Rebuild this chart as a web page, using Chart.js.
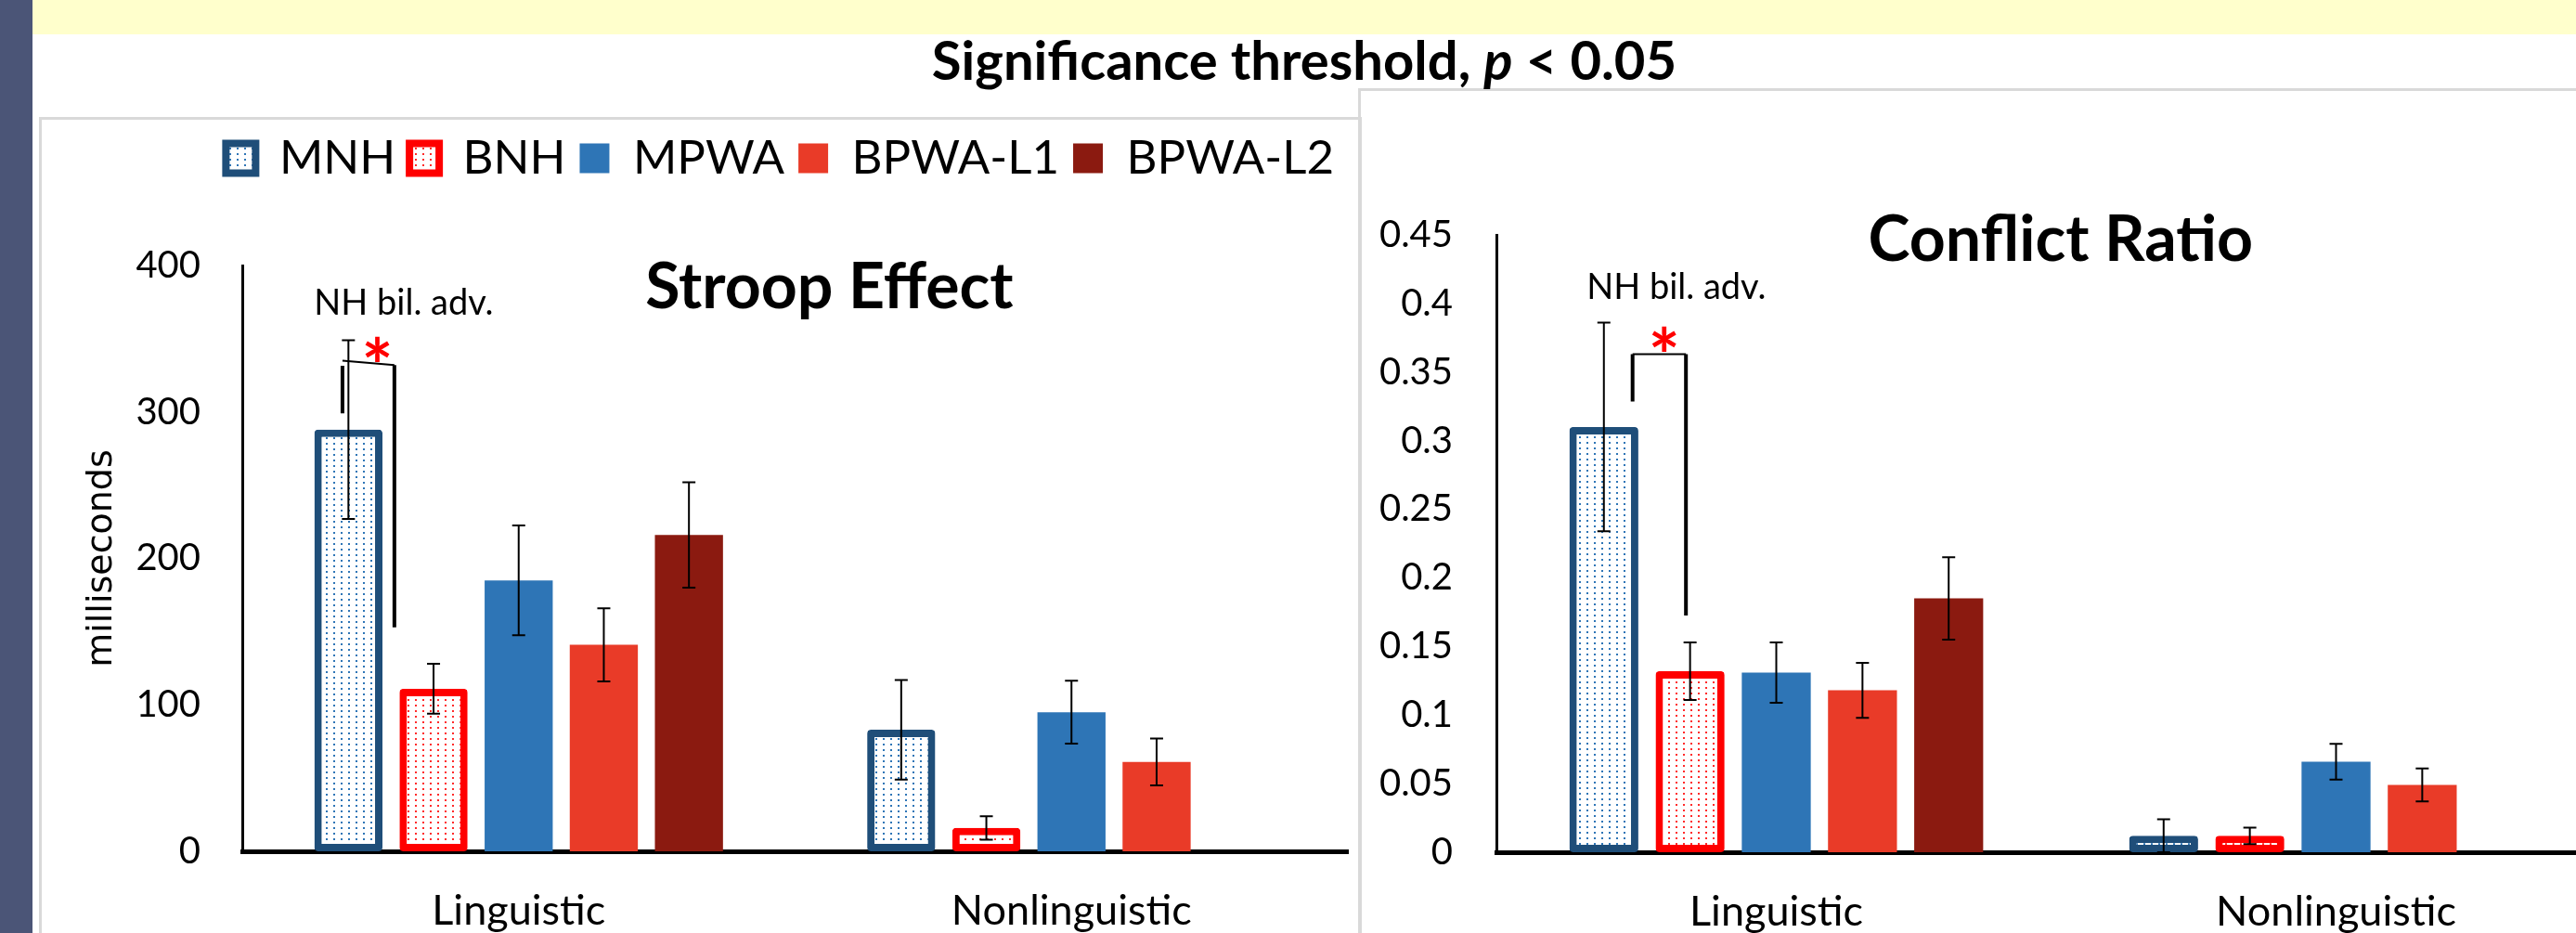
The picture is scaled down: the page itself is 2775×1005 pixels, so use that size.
<!DOCTYPE html>
<html>
<head>
<meta charset="utf-8">
<script src="https://cdn.jsdelivr.net/npm/chart.js@4.4.0/dist/chart.umd.min.js"></script>
<style>
  html, body { margin: 0; padding: 0; }
  body { width: 2775px; height: 1005px; overflow: hidden; position: relative; background: #fff; font-family: Lato, sans-serif; }
  #strip { position: absolute; left: 0; top: 0; width: 35px; height: 1005px; background: #4b5577; }
  #band { position: absolute; left: 35px; top: 0; width: 2740px; height: 37px; background: #ffffcc; }
  #heading { position: absolute; left: 35px; top: 31px; width: 2740px; text-align: center; font: bold 58px/66px Lato, sans-serif; color: #000; }
  .panel { position: absolute; border: 3px solid #d9d9d9; box-sizing: border-box; }
  canvas { position: absolute; }
</style>
</head>
<body>
<div id="strip"></div>
<div id="band"></div>
<div class="panel" style="left:42px; top:126px; width:1425px; height:900px;"></div>
<div class="panel" style="left:1463px; top:95px; width:1400px; height:1000px;"></div>
<div id="heading">Significance threshold, <i>p</i> &lt; 0.05</div>
<canvas id="stroop" width="1416" height="878" style="left:44px; top:127px;"></canvas>
<canvas id="conflict" width="1352" height="909" style="left:1466px; top:96px;"></canvas>
<script>
const categories = ['Linguistic', 'Nonlinguistic'];
const groups = ['MNH', 'BNH', 'MPWA', 'BPWA-L1', 'BPWA-L2'];

// Stroop effect in ms, one value per group
const stroopLing = [288, 111, 185, 141, 216];
const stroopLingErr = [61, 17, 37.5, 25, 36];
const stroopNonling = [83, 16, 95, 61, null];
const stroopNonlingErr = [34, 8, 21.5, 16, null];
const stroopTicks = ['0', '100', '200', '300', '400'];

// conflict ratio
const conflictLing = [0.310, 0.132, 0.131, 0.118, 0.185];
const conflictLingErr = [0.076, 0.021, 0.022, 0.02, 0.03];
const conflictNonling = [0.012, 0.012, 0.066, 0.049, null];
const conflictNonlingErr = [0.012, 0.006, 0.013, 0.012, null];
const conflictTicks = ['0', '0.05', '0.1', '0.15', '0.2', '0.25', '0.3', '0.35', '0.4', '0.45'];

const colors = ['#1f4e79', '#ff0000', '#2e75b6', '#e93b28', '#8b1a10'];
const dotColors = ['#2e75b6', '#ff2a2a'];

Chart.defaults.font.family = 'Lato';
Chart.defaults.color = '#000';

function dots(color) {
  const c = document.createElement('canvas');
  c.width = 8; c.height = 6;
  const g = c.getContext('2d');
  g.fillStyle = '#fff';
  g.fillRect(0, 0, 8, 6);
  g.fillStyle = color;
  g.fillRect(3, 2, 2, 2);
  return g.createPattern(c, 'repeat');
}

function makeDatasets(ling, nonling) {
  return groups.map((g, i) => ({
    label: g,
    data: [ling[i], nonling[i]],
    backgroundColor: i < 2 ? dots(dotColors[i]) : colors[i],
    borderColor: colors[i],
    borderWidth: i < 2 ? 8 : 0,
    borderRadius: i < 2 ? 4 : 0,
    borderSkipped: false,
    categoryPercentage: 0.77,
    barPercentage: 0.8
  }));
}

const errorBars = {
  id: 'errorBars',
  afterDatasetsDraw(chart, args, o) {
    const ctx = chart.ctx, y = chart.scales.y;
    ctx.save();
    ctx.strokeStyle = '#000';
    ctx.lineWidth = 2;
    chart.data.datasets.forEach((ds, di) => {
      chart.getDatasetMeta(di).data.forEach((bar, i) => {
        const v = ds.data[i], e = o.errors[i][di];
        if (v == null || e == null) return;
        const t = y.getPixelForValue(v + e), b = y.getPixelForValue(v - e);
        ctx.beginPath();
        ctx.moveTo(bar.x, t); ctx.lineTo(bar.x, b);
        ctx.moveTo(bar.x - 7, t); ctx.lineTo(bar.x + 7, t);
        ctx.moveTo(bar.x - 7, b); ctx.lineTo(bar.x + 7, b);
        ctx.stroke();
      });
    });
    ctx.restore();
  }
};

// significance bracket, note and chart title
const annotate = {
  id: 'annotate',
  afterDatasetsDraw(chart, args, o) {
    const {ctx, chartArea: a} = chart;
    const y = v => chart.scales.y.getPixelForValue(v);
    const b0 = chart.getDatasetMeta(0).data[0], b1 = chart.getDatasetMeta(1).data[0];
    const xAt = t => b0.x + t * (b1.x - b0.x);
    const xl = xAt(o.leftT), xr = xAt(o.rightT);
    ctx.save();
    ctx.strokeStyle = '#000';
    ctx.lineWidth = 2;
    ctx.beginPath();
    ctx.moveTo(xl, y(o.barLeft)); ctx.lineTo(xr, y(o.barRight));
    ctx.stroke();
    ctx.lineWidth = 4;
    ctx.beginPath();
    ctx.moveTo(xl, y(o.leftTop)); ctx.lineTo(xl, y(o.leftBottom));
    ctx.moveTo(xr, y(o.barRight)); ctx.lineTo(xr, y(o.rightBottom));
    ctx.stroke();
    ctx.textAlign = 'center';
    ctx.textBaseline = 'alphabetic';
    ctx.fillStyle = '#ff0000';
    ctx.font = 'bold 80px Lato';
    ctx.fillText('*', xAt(o.starT), y(o.starY));
    ctx.fillStyle = '#000';
    ctx.font = '38px Lato';
    ctx.fillText('NH bil. adv.', xAt(o.noteT), y(o.noteY));
    ctx.font = 'bold 68px Lato';
    ctx.fillText(o.title, a.left + o.titleX * a.width, a.top + o.titleDy);
    ctx.restore();
  }
};

// leaves room between legend and plot
const legendGap = {
  id: 'legendGap',
  afterInit(chart, args, o) {
    const lg = chart.legend, fit = lg.fit;
    lg.fit = function () { fit.call(this); this.height = o.height; };
  }
};

function axes(max, step, ticks, yWidth, tickPad, xHeight, yTitle) {
  return {
    x: {
      grid: { display: false, drawTicks: false },
      border: { display: true, color: '#000', width: 5 },
      ticks: { padding: 37, font: { size: 45 } },
      afterFit: s => { s.height = xHeight; }
    },
    y: {
      min: 0, max: max,
      grid: { display: false, drawTicks: false },
      border: { display: true, color: '#000', width: 3 },
      ticks: { stepSize: step, padding: tickPad, font: { size: 40 }, callback: (v, i) => ticks[i] },
      title: yTitle,
      afterFit: s => { s.width = yWidth; }
    }
  };
}

function draw() {
  new Chart(document.getElementById('stroop'), {
    type: 'bar',
    data: { labels: categories, datasets: makeDatasets(stroopLing, stroopNonling) },
    options: {
      responsive: false,
      animation: false,
      layout: { padding: { top: 3, right: 8 } },
      scales: axes(400, 100, stroopTicks, 217, 45, 88, {
        display: true, text: 'milliseconds',
        font: { family: 'DejaVu Sans', size: 38 },
        padding: { top: 43, bottom: 0 }
      }),
      plugins: {
        legend: {
          align: 'end',
          labels: { boxWidth: 32, boxHeight: 32, padding: 15, font: { size: 51 } }
        },
        legendGap: { height: 156 },
        tooltip: { enabled: false },
        errorBars: { errors: [stroopLingErr, stroopNonlingErr] },
        annotate: {
          title: 'Stroop Effect', titleX: 0.531, titleDy: 46,
          leftT: -0.07, rightT: 0.54,
          barLeft: 335, barRight: 332, leftTop: 331.5, leftBottom: 299, rightBottom: 153,
          starT: 0.34, starY: 312.6, noteT: 0.65, noteY: 366.5
        }
      }
    },
    plugins: [legendGap, errorBars, annotate]
  });

  new Chart(document.getElementById('conflict'), {
    type: 'bar',
    data: { labels: categories, datasets: makeDatasets(conflictLing, conflictNonling) },
    options: {
      responsive: false,
      animation: false,
      layout: { padding: { top: 157 } },
      scales: axes(0.45, 0.05, conflictTicks, 146, 47, 87, { display: false }),
      plugins: {
        legend: { display: false },
        tooltip: { enabled: false },
        errorBars: { errors: [conflictLingErr, conflictNonlingErr] },
        annotate: {
          title: 'Conflict Ratio', titleX: 0.504, titleDy: 28,
          leftT: 0.333, rightT: 0.952,
          barLeft: 0.363, barRight: 0.363, leftTop: 0.363, leftBottom: 0.3285, rightBottom: 0.1726,
          starT: 0.70, starY: 0.3417, noteT: 0.84, noteY: 0.4033
        }
      }
    },
    plugins: [errorBars, annotate]
  });
}

document.fonts.load('40px Lato').then(draw, draw);
</script>
</body>
</html>
